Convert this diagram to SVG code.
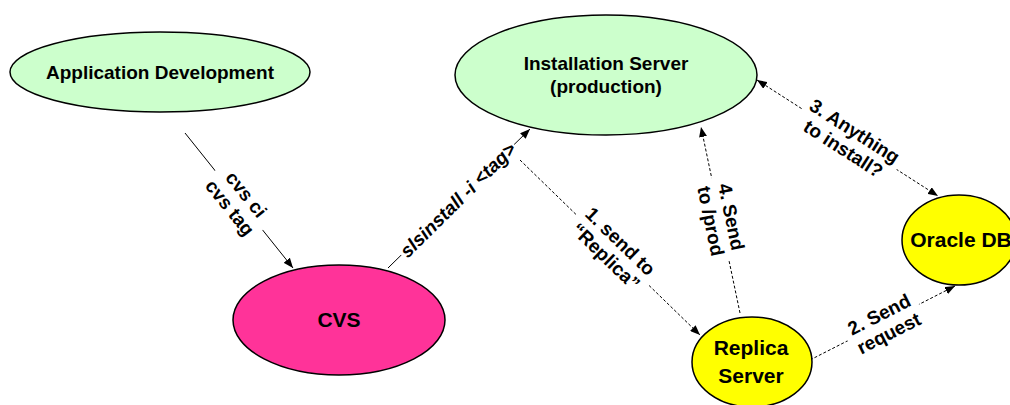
<svg xmlns="http://www.w3.org/2000/svg" width="1010" height="405" viewBox="0 0 1010 405">
<style>
  .node { stroke: #000; stroke-width: 1.5; }
  .green { fill: #ccffcc; }
  .pink { fill: #ff3399; }
  .yellow { fill: #ffff00; }
  .nt { font-family: "Liberation Sans", Arial, sans-serif; font-weight: bold; font-size: 19px; text-anchor: middle; fill: #000; }
  .nt2 { font-family: "Liberation Sans", Arial, sans-serif; font-weight: bold; font-size: 21px; text-anchor: middle; fill: #000; }
  .lt { font-family: "Liberation Sans", Arial, sans-serif; font-weight: bold; font-size: 19px; text-anchor: middle; fill: #000; }
  .solid { stroke: #000; stroke-width: 1; fill: none; }
  .dot { stroke: #000; stroke-width: 1; fill: none; stroke-dasharray: 3 2; }
  .bg { fill: #fff; }
</style>
<defs>
  <marker id="arr" viewBox="0 0 10 8" refX="10" refY="4" markerWidth="10" markerHeight="8" markerUnits="userSpaceOnUse" orient="auto-start-reverse">
    <path d="M0,0 L10,4 L0,8 Z" fill="#000"/>
  </marker>
</defs>

<g id="connectors">
  <line class="solid" x1="185" y1="133" x2="293" y2="268" marker-end="url(#arr)"/>
  <line class="solid" x1="388" y1="268" x2="530" y2="129" marker-end="url(#arr)"/>
  <line class="dot" x1="520" y1="160" x2="700" y2="335" marker-end="url(#arr)"/>
  <line class="dot" x1="740" y1="313" x2="701" y2="127" marker-end="url(#arr)"/>
  <line class="dot" x1="757" y1="80" x2="938" y2="196" marker-start="url(#arr)" marker-end="url(#arr)"/>
  <line class="dot" x1="810" y1="360" x2="955" y2="286" marker-end="url(#arr)"/>
</g>

<g id="labels">
  <g id="label-cvs" transform="translate(238,201) rotate(51)">
    <rect class="bg" x="-38" y="-23" width="76" height="46"/>
    <text class="lt" x="0" y="-4">cvs ci</text>
    <text class="lt" x="0" y="17">cvs tag</text>
  </g>
  <g id="label-slsinstall" transform="translate(458,200) rotate(-44.6)">
    <rect class="bg" x="-79" y="-12" width="158" height="24"/>
    <text class="lt" x="0" y="6.5" font-style="italic" font-size="18">slsinstall -i &lt;tag&gt;</text>
  </g>
  <g id="label-1" transform="translate(613,249) rotate(44)">
    <rect class="bg" x="-50" y="-23" width="100" height="46"/>
    <text class="lt" x="0" y="-4">1. send to</text>
    <text class="lt" x="0" y="17">“Replica”</text>
  </g>
  <g id="label-4" transform="translate(721,219) rotate(78.3)">
    <rect class="bg" x="-42" y="-23" width="84" height="46"/>
    <text class="lt" x="0" y="-4">4. Send</text>
    <text class="lt" x="0" y="17">to /prod</text>
  </g>
  <g id="label-3" transform="translate(849,140) rotate(32.7)">
    <rect class="bg" x="-56" y="-23" width="112" height="46"/>
    <text class="lt" x="0" y="-4">3. Anything</text>
    <text class="lt" x="0" y="17">to install?</text>
  </g>
  <g id="label-2" transform="translate(884,324) rotate(-27)">
    <rect class="bg" x="-40" y="-23" width="80" height="46"/>
    <text class="lt" x="0" y="-4">2. Send</text>
    <text class="lt" x="0" y="17">request</text>
  </g>
</g>

<g id="node-appdev">
  <ellipse class="node green" cx="160" cy="72" rx="150" ry="40"/>
  <text class="nt" x="160" y="79">Application Development</text>
</g>
<g id="node-install">
  <ellipse class="node green" cx="606" cy="75" rx="151" ry="60"/>
  <text class="nt" x="606" y="70">Installation Server</text>
  <text class="nt" x="606" y="93">(production)</text>
</g>
<g id="node-cvs">
  <ellipse class="node pink" cx="339" cy="320" rx="106" ry="55"/>
  <text class="nt2" x="339" y="327">CVS</text>
</g>
<g id="node-replica">
  <ellipse class="node yellow" cx="752" cy="362" rx="60" ry="45"/>
  <text class="nt2" x="751" y="355">Replica</text>
  <text class="nt2" x="751" y="383">Server</text>
</g>
<g id="node-oracle">
  <ellipse class="node yellow" cx="959" cy="240" rx="57" ry="45"/>
  <text class="nt2" x="961" y="247">Oracle DB</text>
</g>
</svg>
